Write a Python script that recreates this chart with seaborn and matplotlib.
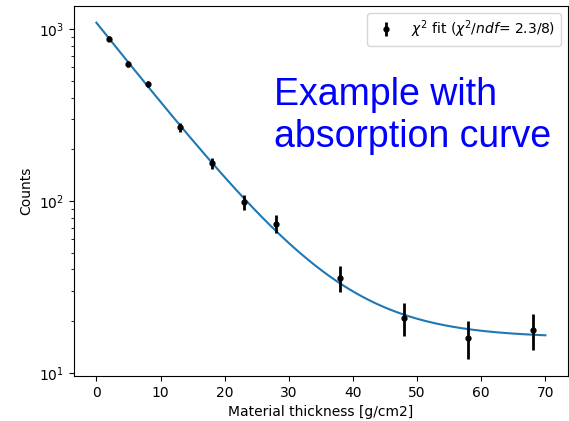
import numpy as np
import pandas as pd
import matplotlib
matplotlib.use("Agg")
import matplotlib.pyplot as plt
import seaborn as sns

# Measured data
thickness = [2, 5, 8, 13, 18, 23, 28, 38, 48, 58, 68]
counts = [879, 628, 481, 269, 166, 98.6, 73.8, 35.7, 20.9, 16.0, 17.7]
count_errors = [29.6, 25.1, 21.9, 16.4, 12.9, 9.9, 8.6, 6.0, 4.6, 4.0, 4.2]

# Fit parameters: N(x) = A * exp(-mu * x) + C
fit_A = 1076.0
fit_mu = 0.109
fit_C = 16.0
fit_range = [0, 70]

legend_label = r"$\chi^2$ fit ($\chi^2/ndf$= 2.3/8)"

fig = plt.figure(figsize=(5.69, 4.21), dpi=100)
ax = fig.add_axes([0.130, 0.107, 0.868, 0.879])

xfit = np.linspace(fit_range[0], fit_range[1], 200)
fit_df = pd.DataFrame({"x": xfit, "y": fit_A * np.exp(-fit_mu * xfit) + fit_C})
sns.lineplot(data=fit_df, x="x", y="y", ax=ax, color="C0", linewidth=1.5, legend=False)

ax.errorbar(thickness, counts, yerr=count_errors, fmt="o", color="black",
            markersize=3.5, elinewidth=2, label=legend_label)

ax.set_yscale("log")
ax.set_xlabel("Material thickness [g/cm2]")
ax.set_ylabel("Counts")
ax.legend(loc="upper right")

ax.text(0.405, 0.619, "Example with\nabsorption curve", transform=ax.transAxes,
        fontsize=27, color="blue", family="Liberation Sans", va="baseline", ha="left")

fig.savefig("out.png", dpi=100)
